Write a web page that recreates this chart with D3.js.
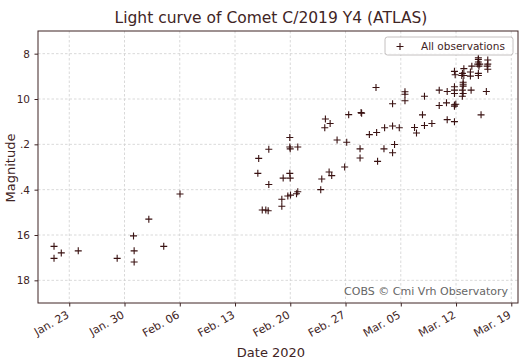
<!DOCTYPE html>
<html>
<head>
<meta charset="utf-8">
<script src="https://cdn.jsdelivr.net/npm/d3@7"></script>
<style>
  body { margin: 0; background: #fff; }
  text { font-family: "DejaVu Sans", sans-serif; }
</style>
</head>
<body>
<div id="chart"></div>
<script>
// observation time as day of year 2020 (Jan 1 = 1), fractional
var obsDay = [
  21.07, 21.07, 21.99, 24.14, 29.07, 31.14, 31.22, 31.22, 33.08, 34.97, 37.03,
  46.89, 47.00, 47.45, 47.90, 48.20, 48.28, 48.28, 49.93, 49.93, 50.10,
  50.69, 50.94, 50.94, 50.99, 50.94, 50.99, 51.03, 51.79, 51.95, 51.95,
  54.86, 54.99, 55.92, 56.25, 55.37, 55.45, 56.05, 56.93, 57.89, 58.15,
  58.40, 59.84, 59.84, 59.97, 60.04, 61.02, 61.86, 61.94, 62.06, 62.87,
  62.95, 63.96, 63.96, 63.96, 64.21, 64.81,
  65.53, 65.53, 65.53, 66.74, 66.99, 67.75, 68.00, 68.00, 68.94, 69.87,
  69.87, 70.79, 70.88, 70.88, 71.80, 71.89, 71.80, 71.80, 71.80, 71.80,
  71.97, 71.80, 71.80, 72.73, 72.81, 72.99, 72.99, 72.90, 72.90, 72.90,
  72.80, 72.90, 72.80, 73.82, 73.82, 74.00, 73.91, 74.83, 74.83, 74.83,
  74.75, 75.00, 74.90, 74.83, 74.83, 75.17, 75.84, 76.02, 76.02, 75.95, 76.02
];
var magnitude = [
  16.50, 17.03, 16.79, 16.70, 17.03, 16.04, 16.70, 17.19, 15.30, 16.50, 14.19,
  13.28, 12.62, 14.90, 14.90, 14.93, 12.22, 13.77, 14.42, 14.73, 13.49,
  14.28, 11.70, 12.12, 12.20, 13.28, 13.49, 14.24, 14.18, 14.09, 12.12,
  14.00, 13.53, 13.22, 13.38, 11.27, 10.88, 11.08, 11.81, 13.00, 11.91,
  10.69, 12.20, 12.60, 10.60, 10.63, 11.57, 9.49, 11.48, 12.75, 12.20,
  11.27, 10.21, 11.19, 12.37, 12.01, 11.27,
  9.68, 9.79, 10.08, 11.26, 11.50, 10.70, 9.88, 11.17, 11.08, 9.61,
  10.29, 10.17, 9.67, 10.91, 8.78, 8.93, 9.46, 9.61, 9.76, 10.26,
  10.23, 10.32, 11.00, 8.96, 8.87, 8.66, 8.96, 9.26, 9.35, 9.43,
  9.61, 9.76, 9.88, 8.81, 8.99, 8.55, 9.61, 8.18, 8.25, 8.37,
  8.46, 8.46, 8.55, 8.87, 8.96, 10.70, 9.67, 8.28, 8.46, 8.55, 8.69
];
var xTickDates = ["2020-01-23", "2020-01-30", "2020-02-06", "2020-02-13", "2020-02-20",
                  "2020-02-27", "2020-03-05", "2020-03-12", "2020-03-19"];
var xTickLabels = ["Jan. 23", "Jan. 30", "Feb. 06", "Feb. 13", "Feb. 20",
                   "Feb. 27", "Mar. 05", "Mar. 12", "Mar. 19"];
var yTicks = [8, 10, 12, 14, 16, 18];
var yTickLabels = ["8", "10", ".2", ".4", "16", "18"];

var width = 521, height = 363;
var margin = {top: 31, right: 3, bottom: 60, left: 38};
var innerWidth = width - margin.left - margin.right;
var innerHeight = height - margin.top - margin.bottom;
var ink = "#3f2525";

var dayToDate = d => new Date(2020, 0, 1, 0, 0, 0, 0).getTime() + (d - 1) * 86400000;

var data = obsDay.map((d, i) => ({date: new Date(dayToDate(d)), mag: magnitude[i]}));

var svg = d3.select("#chart").append("svg")
  .attr("width", width)
  .attr("height", height);

var xScale = d3.scaleTime()
  .domain([new Date(dayToDate(19.04)), new Date(dayToDate(79.85))])
  .range([0, innerWidth]);

var yScale = d3.scaleLinear()
  .domain([7, 19])
  .range([0, innerHeight]);

var tickDates = xTickDates.map(s => d3.timeParse("%Y-%m-%d")(s));

var g = svg.append("g")
  .attr("transform", `translate(${margin.left}, ${margin.top})`);

// grid
g.append("g").selectAll("line").data(tickDates).enter().append("line")
  .attr("x1", d => xScale(d)).attr("x2", d => xScale(d))
  .attr("y1", 0).attr("y2", innerHeight)
  .attr("stroke", "#cfcfcf").attr("stroke-width", 0.8).attr("stroke-dasharray", "2.5,2");
g.append("g").selectAll("line").data(yTicks).enter().append("line")
  .attr("y1", d => yScale(d)).attr("y2", d => yScale(d))
  .attr("x1", 0).attr("x2", innerWidth)
  .attr("stroke", "#cfcfcf").attr("stroke-width", 0.8).attr("stroke-dasharray", "2.5,2");

// axes
var xAxis = d3.axisBottom(xScale)
  .tickValues(tickDates)
  .tickFormat((d, i) => xTickLabels[i])
  .tickSize(3.5).tickSizeOuter(0);
var yAxis = d3.axisLeft(yScale)
  .tickValues(yTicks)
  .tickFormat((d, i) => yTickLabels[i])
  .tickSize(3.5).tickSizeOuter(0);

var xg = g.append("g").attr("transform", `translate(0, ${innerHeight})`).call(xAxis);
xg.select(".domain").remove();
xg.selectAll("line").attr("stroke", ink);
xg.selectAll("text")
  .attr("fill", ink).attr("font-size", 11)
  .attr("text-anchor", "end")
  .attr("y", 0).attr("dy", null)
  .attr("transform", "translate(0, 14) rotate(-30)");

var yg = g.append("g").call(yAxis);
yg.select(".domain").remove();
yg.selectAll("line").attr("stroke", ink);
yg.selectAll("text").attr("fill", ink).attr("font-size", 10.5).attr("x", -8);

// frame
g.append("rect")
  .attr("width", innerWidth).attr("height", innerHeight)
  .attr("fill", "none").attr("stroke", ink).attr("stroke-width", 1);

// points
var plus = "M-3.5,0H3.5M0,-3.5V3.5";
g.append("g").selectAll("path").data(data).enter().append("path")
  .attr("d", plus)
  .attr("transform", d => `translate(${xScale(d.date)}, ${yScale(d.mag)})`)
  .attr("stroke", "#3a1212").attr("stroke-width", 1.1).attr("fill", "none");

// legend
var lg = svg.append("g").attr("transform", "translate(385, 37)");
lg.append("rect").attr("width", 128).attr("height", 18).attr("rx", 2.5)
  .attr("fill", "#fff").attr("fill-opacity", 0.85)
  .attr("stroke", "#b5b0b0").attr("stroke-width", 0.8);
lg.append("path").attr("d", plus).attr("transform", "translate(15, 9.5)")
  .attr("stroke", "#3a1212").attr("stroke-width", 1.1);
lg.append("text").attr("x", 36).attr("y", 13).attr("font-size", 10.5)
  .attr("fill", ink).text("All observations");

// annotation
svg.append("text").attr("x", 508).attr("y", 295).attr("text-anchor", "end")
  .attr("font-size", 11).attr("fill", "#666").text("COBS © Cmi Vrh Observatory");

// titles
svg.append("text").attr("x", 271).attr("y", 23).attr("text-anchor", "middle")
  .attr("font-size", 15.5).attr("fill", ink).text("Light curve of Comet C/2019 Y4 (ATLAS)");
svg.append("text").attr("x", 271).attr("y", 357).attr("text-anchor", "middle")
  .attr("font-size", 13).attr("fill", ink).text("Date 2020");
svg.append("text").attr("transform", "translate(15, 168) rotate(-90)")
  .attr("text-anchor", "middle").attr("font-size", 13).attr("fill", ink).text("Magnitude");
</script>
</body>
</html>
